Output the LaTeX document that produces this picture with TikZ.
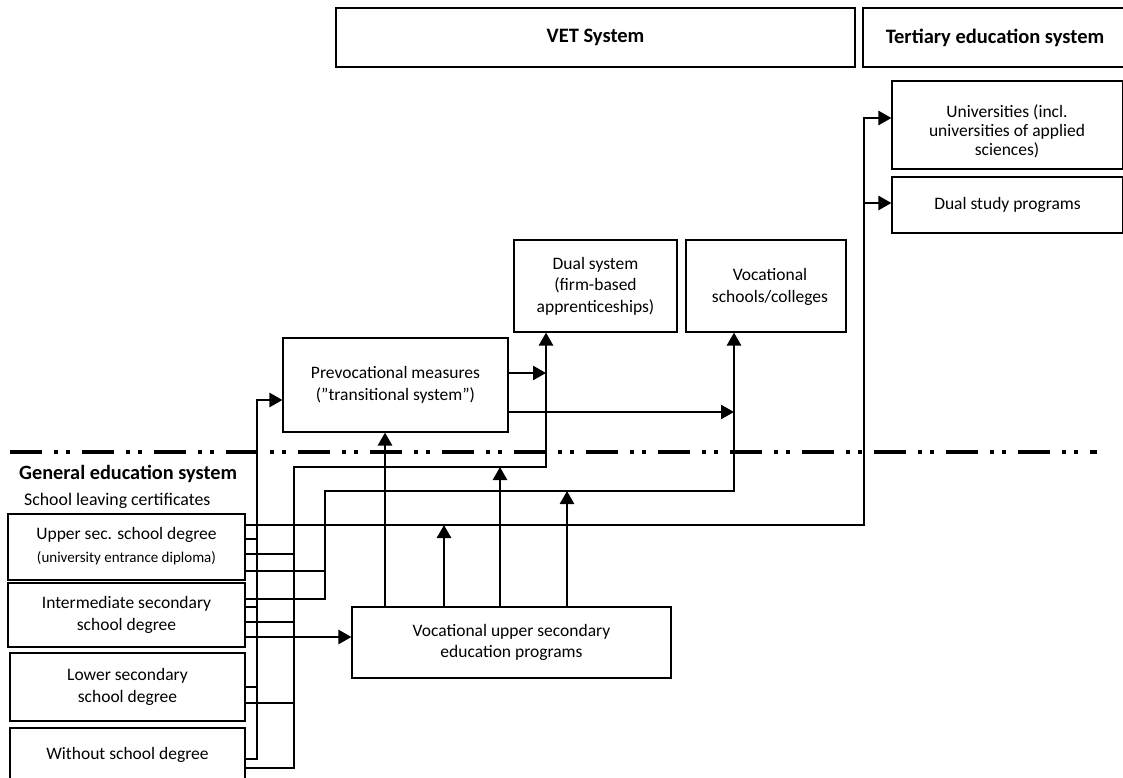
\documentclass[tikz,border=0pt]{standalone}
\usepackage{fontspec}
\setmainfont{Carlito}
\usetikzlibrary{arrows.meta}
\begin{document}
\begin{tikzpicture}[x=1pt,y=-1pt,
  box/.style={draw=black, line width=1.1pt, inner sep=0pt, rectangle, align=center},
  txt/.style={inner sep=0pt, align=center, font=\fontsize{17.5}{21.5}\selectfont},
  conn/.style={line width=2.6pt, line join=miter},
  arr/.style={conn, -{Triangle[length=13pt,width=14pt]}},
  every node/.style={font=\fontsize{17.5}{21.5}\selectfont}
]
\useasboundingbox (0,0) rectangle (1123,778);

% header boxes
\node[box, minimum width=519pt, minimum height=59pt, font=\fontsize{20.5}{24}\selectfont\bfseries] (vet) at (595.5,37.5) {VET System};
\node[box, minimum width=264pt, minimum height=59pt, font=\fontsize{20.5}{24}\selectfont\bfseries] (tert) at (995,37.5) {Tertiary education system};

% tertiary boxes
\node[box, minimum width=231pt, minimum height=88pt] (uni) at (1007.5,125) {};
\node[txt, font=\fontsize{17.5}{19}\selectfont] (unit) at (1007,131) {Universities (incl.\\universities of applied\\sciences)};
\node[box, minimum width=231pt, minimum height=56pt] (ds) at (1007.5,205) {Dual study programs};

% VET boxes
\node[box, minimum width=163pt, minimum height=92pt] (dual) at (595.5,286) {Dual system\\(firm-based\\apprenticeships)};
\node[box, minimum width=160pt, minimum height=92pt] (vs) at (766,286) {};
\node[txt] (vst) at (770,287) {Vocational\\schools/colleges};
\node[box, minimum width=225pt, minimum height=94pt] (prevoc) at (395.5,385) {Prevocational measures\\(”transitional system”)};
\node[box, minimum width=319pt, minimum height=71pt] (vp) at (511.5,642.5) {Vocational upper secondary\\education programs};

% general education
\node[anchor=west, inner sep=0pt, font=\fontsize{20.3}{24}\selectfont\bfseries] (gen) at (19,474) {General education system};
\node[anchor=west, inner sep=0pt, font=\fontsize{17.8}{21.5}\selectfont] (slc) at (24,501) {School leaving certificates};

\node[box, minimum width=237pt, minimum height=66pt] (upper) at (126.5,547) {};
\node[txt] (uppert1) at (126.5,535) {Upper sec. school degree};
\node[txt, font=\fontsize{15}{18}\selectfont] (uppert2) at (126.5,558) {(university entrance diploma)};
\node[box, minimum width=237pt, minimum height=64pt] (inter) at (126.5,615) {Intermediate secondary\\school degree};
\node[box, minimum width=235pt, minimum height=68pt] (lower) at (127.5,687) {Lower secondary\\school degree};
\node[box, minimum width=235pt, minimum height=54pt] (without) at (127.5,755) {Without school degree};

% dash-dot separator
\coordinate (sepL) at (10,452);
\coordinate (sepR) at (1097,452);
\draw[line width=4pt, dash pattern=on 32pt off 12pt on 4pt off 8pt on 4pt off 12pt] (sepL) -- (sepR);

% line A -> prevocational measures
\draw[arr] (without.east |- 0,759) -| (257,400) -- ([yshift=-15pt]prevoc.west);
\foreach \n/\yy in {upper/539, inter/607, lower/687}
  \draw[conn] (\n.east |- 0,\yy) -- (257,\yy);

% line B -> dual system
\draw[arr] (without.east |- 0,768) -| (294,467) -| (546,0 |- dual.south);
\foreach \n/\yy in {upper/554, inter/622, lower/703}
  \draw[conn] (\n.east |- 0,\yy) -- (294,\yy);

% line C -> vocational schools
\draw[arr] (inter.east |- 0,599) -| (325,491) -| (734,0 |- vs.south);
\draw[conn] (upper.east |- 0,571) -- (325,571);

% upper sec -> tertiary
\draw[arr] (upper.east |- 0,525) -| (864,118) -- (uni.west |- 0,118);
\coordinate (dsj) at (864,203);
\draw[arr] (dsj) -- (ds.west |- dsj);

% intermediate -> vocational programs
\draw[arr] (inter.east |- 0,637) -- (vp.west |- 0,637);

% vocational programs upward
\draw[arr] (385,0 |- vp.north) -- (385,0 |- prevoc.south);
\draw[arr] (444,0 |- vp.north) -- (444,525);
\draw[arr] (500,0 |- vp.north) -- (500,467);
\draw[arr] (567,0 |- vp.north) -- (567,491);

% prevocational -> dual / vocational schools
\draw[arr] (prevoc.east |- 0,373) -- (546,373);
\draw[arr] (prevoc.east |- 0,412) -- (734,412);
\end{tikzpicture}
\end{document}
